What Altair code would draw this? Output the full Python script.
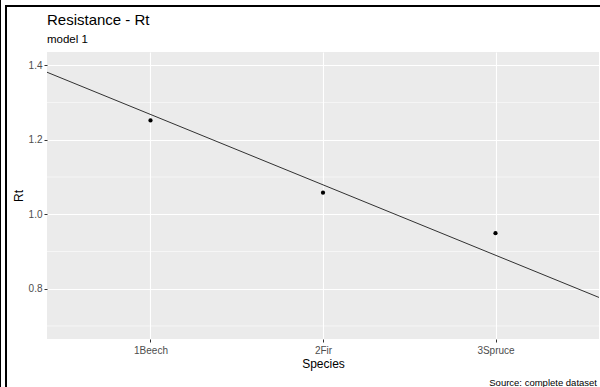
import json
import altair as alt
import pandas as pd

# ---- data ----
species = ["1Beech", "2Fir", "3Spruce"]
species_pos = [1, 2, 3]
rt_mean = [1.252, 1.058, 0.949]
rt_fit = [1.268, 1.079, 0.890]
y_major = [0.8, 1.0, 1.2, 1.4]
y_minor = [0.7, 0.9, 1.1, 1.3]
title_text = "Resistance - Rt"
subtitle_text = "model 1"
caption_text = "Source: complete dataset"

pts = pd.DataFrame({"pos": species_pos, "species": species, "rt": rt_mean, "fit": rt_fit})
minor_df = pd.DataFrame({"rt": y_minor})

FONT = "Liberation Sans"
W, H = 552, 287
PAD_L, PAD_T = 47, 52

xscale = alt.Scale(domain=[0.4, 3.6], nice=False, zero=False)
yscale = alt.Scale(domain=[0.665, 1.4357], nice=False, zero=False)

label_expr = f"{json.dumps(species)}[datum.value - 1]"

xaxis = alt.Axis(values=species_pos, labelExpr=label_expr, title="Species",
                 grid=True, gridColor="white", gridWidth=1.1,
                 domain=False, ticks=True, tickColor="#333333", tickSize=3,
                 labelColor="#4D4D4D", labelFontSize=10, labelFont=FONT, labelPadding=3,
                 titleFont=FONT, titleFontSize=12, titleFontWeight="normal",
                 titleColor="black", titlePadding=3)
yaxis = alt.Axis(values=y_major, format=".1f", title="Rt",
                 grid=True, gridColor="white", gridWidth=1.1,
                 domain=False, ticks=True, tickColor="#333333", tickSize=3,
                 labelColor="#4D4D4D", labelFontSize=10, labelFont=FONT, labelPadding=2,
                 titleFont=FONT, titleFontSize=12, titleFontWeight="normal",
                 titleColor="black", titlePadding=3)

base = alt.Chart(pts)

minor = alt.Chart(minor_df).mark_rule(color="white", strokeWidth=0.55).encode(
    y=alt.Y("rt:Q", scale=yscale, axis=yaxis)
)

points = base.mark_circle(color="black", size=18, opacity=1).encode(
    x=alt.X("pos:Q", scale=xscale, axis=xaxis),
    y=alt.Y("rt:Q", scale=yscale, axis=yaxis),
)

fit_line = base.transform_regression("pos", "fit", extent=[0.4, 3.6]).mark_line(
    color="black", strokeWidth=0.8, clip=True
).encode(
    x=alt.X("pos:Q", scale=xscale),
    y=alt.Y("fit:Q", scale=yscale),
)

def text_layer(txt, x, y, size, align="left"):
    return alt.Chart(pd.DataFrame({"t": [txt]})).mark_text(
        align=align, baseline="alphabetic", font=FONT, fontSize=size, color="black"
    ).encode(text="t:N", x=alt.value(x), y=alt.value(y))

title = text_layer(title_text, 0, -27, 15)
subtitle = text_layer(subtitle_text, 0, -8.7, 11.5)
caption = text_layer(caption_text, 550, 333.5, 9.5, align="right")

# decorative screenshot frame (left double line, top line)
frame1 = alt.Chart(pd.DataFrame({"a": [0]})).mark_rule(color="black", strokeWidth=1).encode(
    x=alt.value(-46.5), y=alt.value(-52), y2=alt.value(H + 48))
frame2 = alt.Chart(pd.DataFrame({"a": [0]})).mark_rule(color="black", strokeWidth=2).encode(
    x=alt.value(-41), y=alt.value(-47), y2=alt.value(H + 48))
frame3 = alt.Chart(pd.DataFrame({"a": [0]})).mark_rule(color="black", strokeWidth=2).encode(
    y=alt.value(-46), x=alt.value(-42), x2=alt.value(W + 1))

chart = alt.layer(minor, fit_line, points, title, subtitle, caption,
                  frame1, frame2, frame3).properties(
    width=W, height=H,
    autosize=alt.AutoSizeParams(type="none"),
    padding={"left": PAD_L, "top": PAD_T, "right": 1, "bottom": 48},
    background="white",
).configure_view(fill="#EBEBEB", stroke=None)

chart.save("out.html", embed_options={"renderer": "svg", "actions": False})
